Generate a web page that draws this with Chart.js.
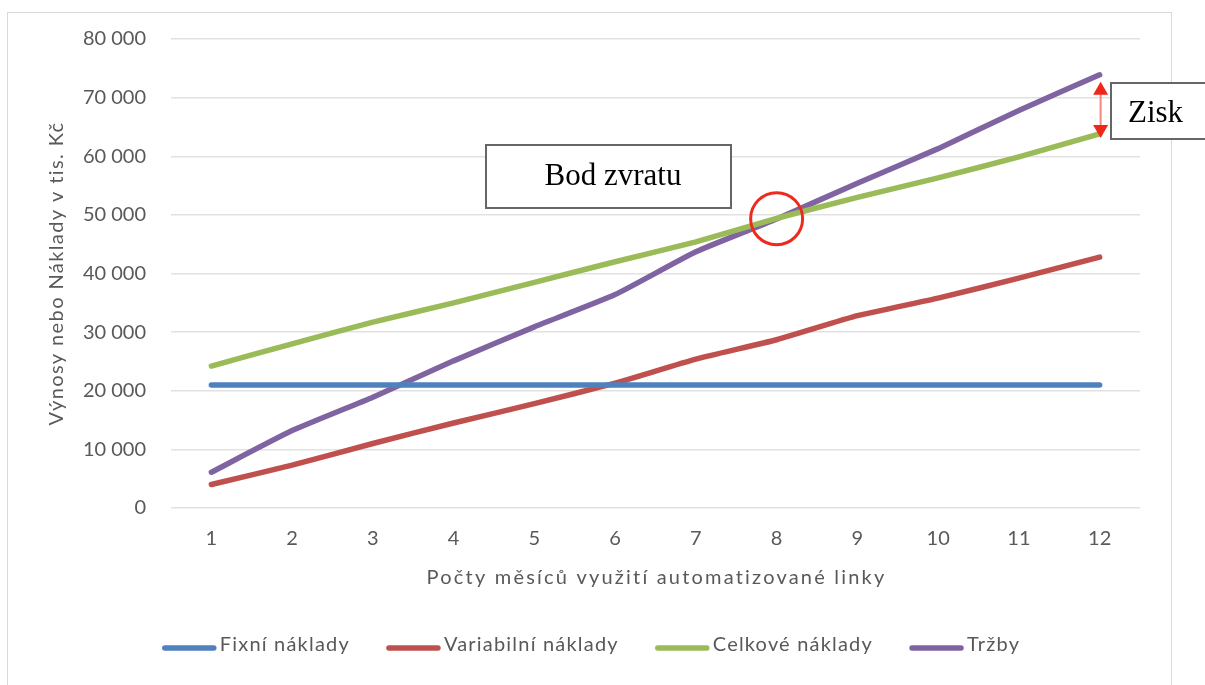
<!DOCTYPE html>
<html lang="cs">
<head>
  <meta charset="UTF-8" />
  <title>Bod zvratu</title>
  <script src="https://cdn.jsdelivr.net/npm/chart.js"></script>
  <style>
    body { margin: 0; background: #fff; }
    #wrap { width: 1205px; height: 685px; position: relative; }
  </style>
</head>
<body>
  <div id="wrap"><canvas id="chart"></canvas></div>
  <script>
    const months = ['1', '2', '3', '4', '5', '6', '7', '8', '9', '10', '11', '12'];
    const fixedCosts = [21000, 21000, 21000, 21000, 21000, 21000, 21000, 21000, 21000, 21000, 21000, 21000];
    const variableCosts = [4000, 7300, 11000, 14500, 17800, 21300, 25400, 28700, 32800, 35800, 39200, 42800];
    const totalCosts = [24200, 28000, 31700, 35000, 38500, 42000, 45400, 49400, 53000, 56300, 59900, 63800];
    const revenue = [6100, 13200, 18900, 25100, 30900, 36400, 43700, 49300, 55400, 61300, 67800, 73900];
    const yTicks = [0, 80000, 10000]; // min, max, step
    const xTitle = 'Počty měsíců využití automatizované linky';
    const yTitle = 'Výnosy nebo Náklady v tis. Kč';

    const grey = '#595959';
    const sans = 'Lato, "Open Sans", sans-serif';
    const serif = '"Liberation Serif", "DejaVu Serif", serif';

    function fmt(v) {
      return String(v).replace(/\B(?=(\d{3})+(?!\d))/g, ' ');
    }

    const frame = {
      id: 'frame',
      beforeDraw(chart) {
        const ctx = chart.ctx;
        ctx.save();
        ctx.fillStyle = '#fff';
        ctx.fillRect(0, 0, chart.width, chart.height);
        ctx.strokeStyle = '#d9d9d9';
        ctx.lineWidth = 1;
        ctx.strokeRect(7.5, 12.5, 1164, 700);
        ctx.restore();
      }
    };

    // axis titles and legend, drawn with a bit of letter spacing like the original
    const textPlugin = {
      id: 'texts',
      afterDraw(chart) {
        const ctx = chart.ctx;
        const area = chart.chartArea;
        ctx.save();
        ctx.fillStyle = grey;
        ctx.textBaseline = 'middle';
        ctx.textAlign = 'center';
        ctx.font = '20px ' + sans;

        ctx.letterSpacing = '2.2px';
        ctx.fillText(xTitle, (area.left + area.right) / 2 + 1, 578);

        ctx.save();
        ctx.letterSpacing = '1.4px';
        ctx.translate(57, (area.top + area.bottom) / 2);
        ctx.rotate(-Math.PI / 2);
        ctx.fillText(yTitle, 0, 0);
        ctx.restore();

        ctx.letterSpacing = '1.2px';
        ctx.textAlign = 'left';
        const items = chart.data.datasets.map(d => ({ text: d.label, color: d.borderColor, w: ctx.measureText(d.label).width }));
        const lineW = 55, gapA = 3, gapB = 36;
        let total = 0;
        items.forEach((it, i) => { total += lineW + gapA + it.w + (i < items.length - 1 ? gapB : 0); });
        let x = 591 - total / 2;
        const y = 645;
        items.forEach(it => {
          ctx.strokeStyle = it.color;
          ctx.lineWidth = 5.5;
          ctx.lineCap = 'round';
          ctx.beginPath();
          ctx.moveTo(x + 3, y + 3);
          ctx.lineTo(x + lineW - 3, y + 3);
          ctx.stroke();
          x += lineW + gapA;
          ctx.fillText(it.text, x, y);
          x += it.w + gapB;
        });
        ctx.restore();
      }
    };

    const notes = {
      id: 'notes',
      afterDraw(chart) {
        const ctx = chart.ctx;
        const xs = chart.scales.x, ys = chart.scales.y;
        ctx.save();

        // Bod zvratu box
        ctx.fillStyle = '#fff';
        ctx.fillRect(486, 145, 245, 63);
        ctx.strokeStyle = '#666';
        ctx.lineWidth = 2;
        ctx.strokeRect(486, 145, 245, 63);
        ctx.fillStyle = '#000';
        ctx.font = '31px ' + serif;
        ctx.textAlign = 'center';
        ctx.textBaseline = 'alphabetic';
        ctx.fillText('Bod zvratu', 613, 185);

        // break-even circle
        const cx = xs.getPixelForValue(7);
        const cy = ys.getPixelForValue((totalCosts[7] + revenue[7]) / 2);
        ctx.strokeStyle = '#ee2a1e';
        ctx.lineWidth = 3;
        ctx.beginPath();
        ctx.arc(cx, cy, 26, 0, Math.PI * 2);
        ctx.stroke();

        // profit arrow
        const ax = xs.getPixelForValue(11) + 1;
        const top = ys.getPixelForValue(revenue[11]) + 7;
        const bot = ys.getPixelForValue(totalCosts[11]) + 4;
        ctx.strokeStyle = '#f08a80';
        ctx.lineWidth = 2;
        ctx.beginPath();
        ctx.moveTo(ax, top + 10);
        ctx.lineTo(ax, bot - 10);
        ctx.stroke();
        ctx.fillStyle = '#f0261a';
        ctx.beginPath();
        ctx.moveTo(ax, top);
        ctx.lineTo(ax - 7.5, top + 13);
        ctx.lineTo(ax + 7.5, top + 13);
        ctx.closePath();
        ctx.fill();
        ctx.beginPath();
        ctx.moveTo(ax, bot);
        ctx.lineTo(ax - 7.5, bot - 13);
        ctx.lineTo(ax + 7.5, bot - 13);
        ctx.closePath();
        ctx.fill();

        // Zisk box
        ctx.fillStyle = '#fff';
        ctx.fillRect(1111, 83, 100, 56);
        ctx.strokeStyle = '#666';
        ctx.lineWidth = 2;
        ctx.strokeRect(1111, 83, 100, 56);
        ctx.fillStyle = '#000';
        ctx.font = '31px ' + serif;
        ctx.textAlign = 'left';
        ctx.fillText('Zisk', 1128, 122);

        ctx.restore();
      }
    };

    function line(label, data, color) {
      return {
        label: label,
        data: data,
        borderColor: color,
        backgroundColor: color,
        borderWidth: 5.5,
        borderCapStyle: 'round',
        pointRadius: 0,
        pointHoverRadius: 0,
        tension: 0.15,
        fill: false
      };
    }

    new Chart(document.getElementById('chart'), {
      type: 'line',
      data: {
        labels: months,
        datasets: [
          line('Fixní náklady', fixedCosts, '#4f81bd'),
          line('Variabilní náklady', variableCosts, '#c0504d'),
          line('Celkové náklady', totalCosts, '#9bbb59'),
          line('Tržby', revenue, '#8064a2')
        ]
      },
      plugins: [frame, textPlugin, notes],
      options: {
        responsive: true,
        maintainAspectRatio: false,
        animation: false,
        layout: { padding: { top: 39, right: 65, bottom: 96, left: 0 } },
        plugins: {
          legend: { display: false },
          tooltip: { enabled: false }
        },
        scales: {
          x: {
            offset: true,
            grid: { display: false, drawTicks: false },
            border: { display: false },
            ticks: { color: grey, font: { family: sans, size: 20 }, padding: 19, maxRotation: 0 },
            afterFit(scale) { scale.height = 81; }
          },
          y: {
            min: yTicks[0],
            max: yTicks[1],
            grid: { color: '#e2e2e2', lineWidth: 1.5, drawTicks: false },
            border: { display: false },
            ticks: {
              stepSize: yTicks[2],
              color: grey,
              font: { family: sans, size: 20 },
              padding: 25,
              callback: v => fmt(v)
            },
            afterFit(scale) { scale.width = 171; }
          }
        }
      }
    });
  </script>
</body>
</html>
